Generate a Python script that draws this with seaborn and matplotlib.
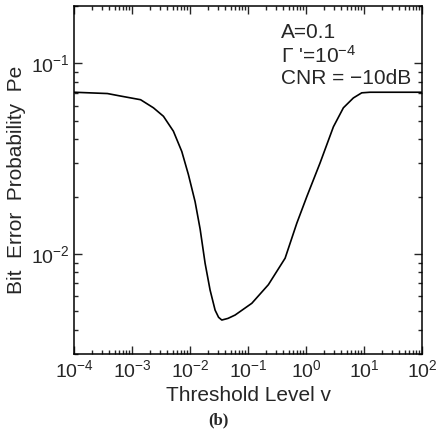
import numpy as np
import pandas as pd
import seaborn as sns
import matplotlib.pyplot as plt
from matplotlib.ticker import LogLocator, NullFormatter

# Values
threshold = [1.0e-4, 3.75e-4, 6.2e-4, 1.4e-3, 2.33e-3, 3.47e-3, 5.15e-3,
             7.19e-3, 9.35e-3, 1.22e-2, 1.49e-2, 1.815e-2, 2.21e-2, 2.70e-2,
             3.1e-2, 3.52e-2, 4.5e-2, 5.97e-2, 0.116, 0.224, 0.435, 0.692,
             1.03, 1.74, 2.96, 4.40, 6.54, 9.12, 12.7, 100.0]
pe = [0.0706, 0.0695, 0.0675, 0.0645, 0.0585, 0.0528, 0.0441,
      0.0345, 0.0261, 0.0188, 0.0135, 0.00893, 0.00647, 0.00507,
      0.00465, 0.00450, 0.00459, 0.00478, 0.00551, 0.0069, 0.0095, 0.0145,
      0.0200, 0.0300, 0.0465, 0.0585, 0.0659, 0.0701, 0.0706, 0.0706]

x_ticks = [1e-4, 1e-3, 1e-2, 1e-1, 1e0, 1e1, 1e2]
y_ticks = [1e-2, 1e-1]

annotations = ["A=0.1", r"$\Gamma$ '=10$^{-4}$", "CNR = \u221210dB"]

sns.set_style("ticks")
plt.rcParams['font.family'] = ['Liberation Sans', 'DejaVu Sans']
plt.rcParams['mathtext.fontset'] = 'custom'
plt.rcParams['mathtext.rm'] = 'Liberation Sans'
plt.rcParams['mathtext.it'] = 'Liberation Sans:italic'
plt.rcParams['mathtext.bf'] = 'Liberation Sans:bold'

df = pd.DataFrame({"v": threshold, "Pe": pe})

fig = plt.figure(figsize=(4.36, 4.34), dpi=100)
ax = fig.add_axes([0.170, 0.184, 0.798, 0.802])

sns.lineplot(data=df, x="v", y="Pe", ax=ax, color="black", linewidth=1.2)

ax.set_xscale("log")
ax.set_yscale("log")
ax.set_xticks(x_ticks)
ax.set_yticks(y_ticks)
ax.set_xlim(1e-4, 1e2)
ax.set_ylim(2.98e-3, 0.2)

ax.xaxis.set_minor_locator(LogLocator(base=10, subs=np.arange(2, 10), numticks=20))
ax.xaxis.set_minor_formatter(NullFormatter())
ax.yaxis.set_minor_locator(LogLocator(base=10, subs=np.arange(2, 10), numticks=20))
ax.yaxis.set_minor_formatter(NullFormatter())

ax.tick_params(which="both", direction="in", top=True, right=True, labelsize=14, width=1)
ax.tick_params(which="major", length=6)
ax.tick_params(which="minor", length=3)
ax.tick_params(axis="x", pad=4)

for spine in ax.spines.values():
    spine.set_linewidth(1.1)
    spine.set_color("black")

ax.set_xlabel("Threshold Level v", fontsize=15, labelpad=3)
ax.set_ylabel("Bit  Error  Probability  Pe", fontsize=15, labelpad=3)

ys = [0.908, 0.837, 0.777]
for txt, yy in zip(annotations, ys):
    ax.text(0.595, yy, txt, transform=ax.transAxes, fontsize=15, va="baseline", ha="left")

fig.text(0.50, 0.032, "(b)", fontsize=12, fontweight="bold", family="Liberation Serif",
         ha="center", va="center")

fig.savefig("out.png", dpi=100)
